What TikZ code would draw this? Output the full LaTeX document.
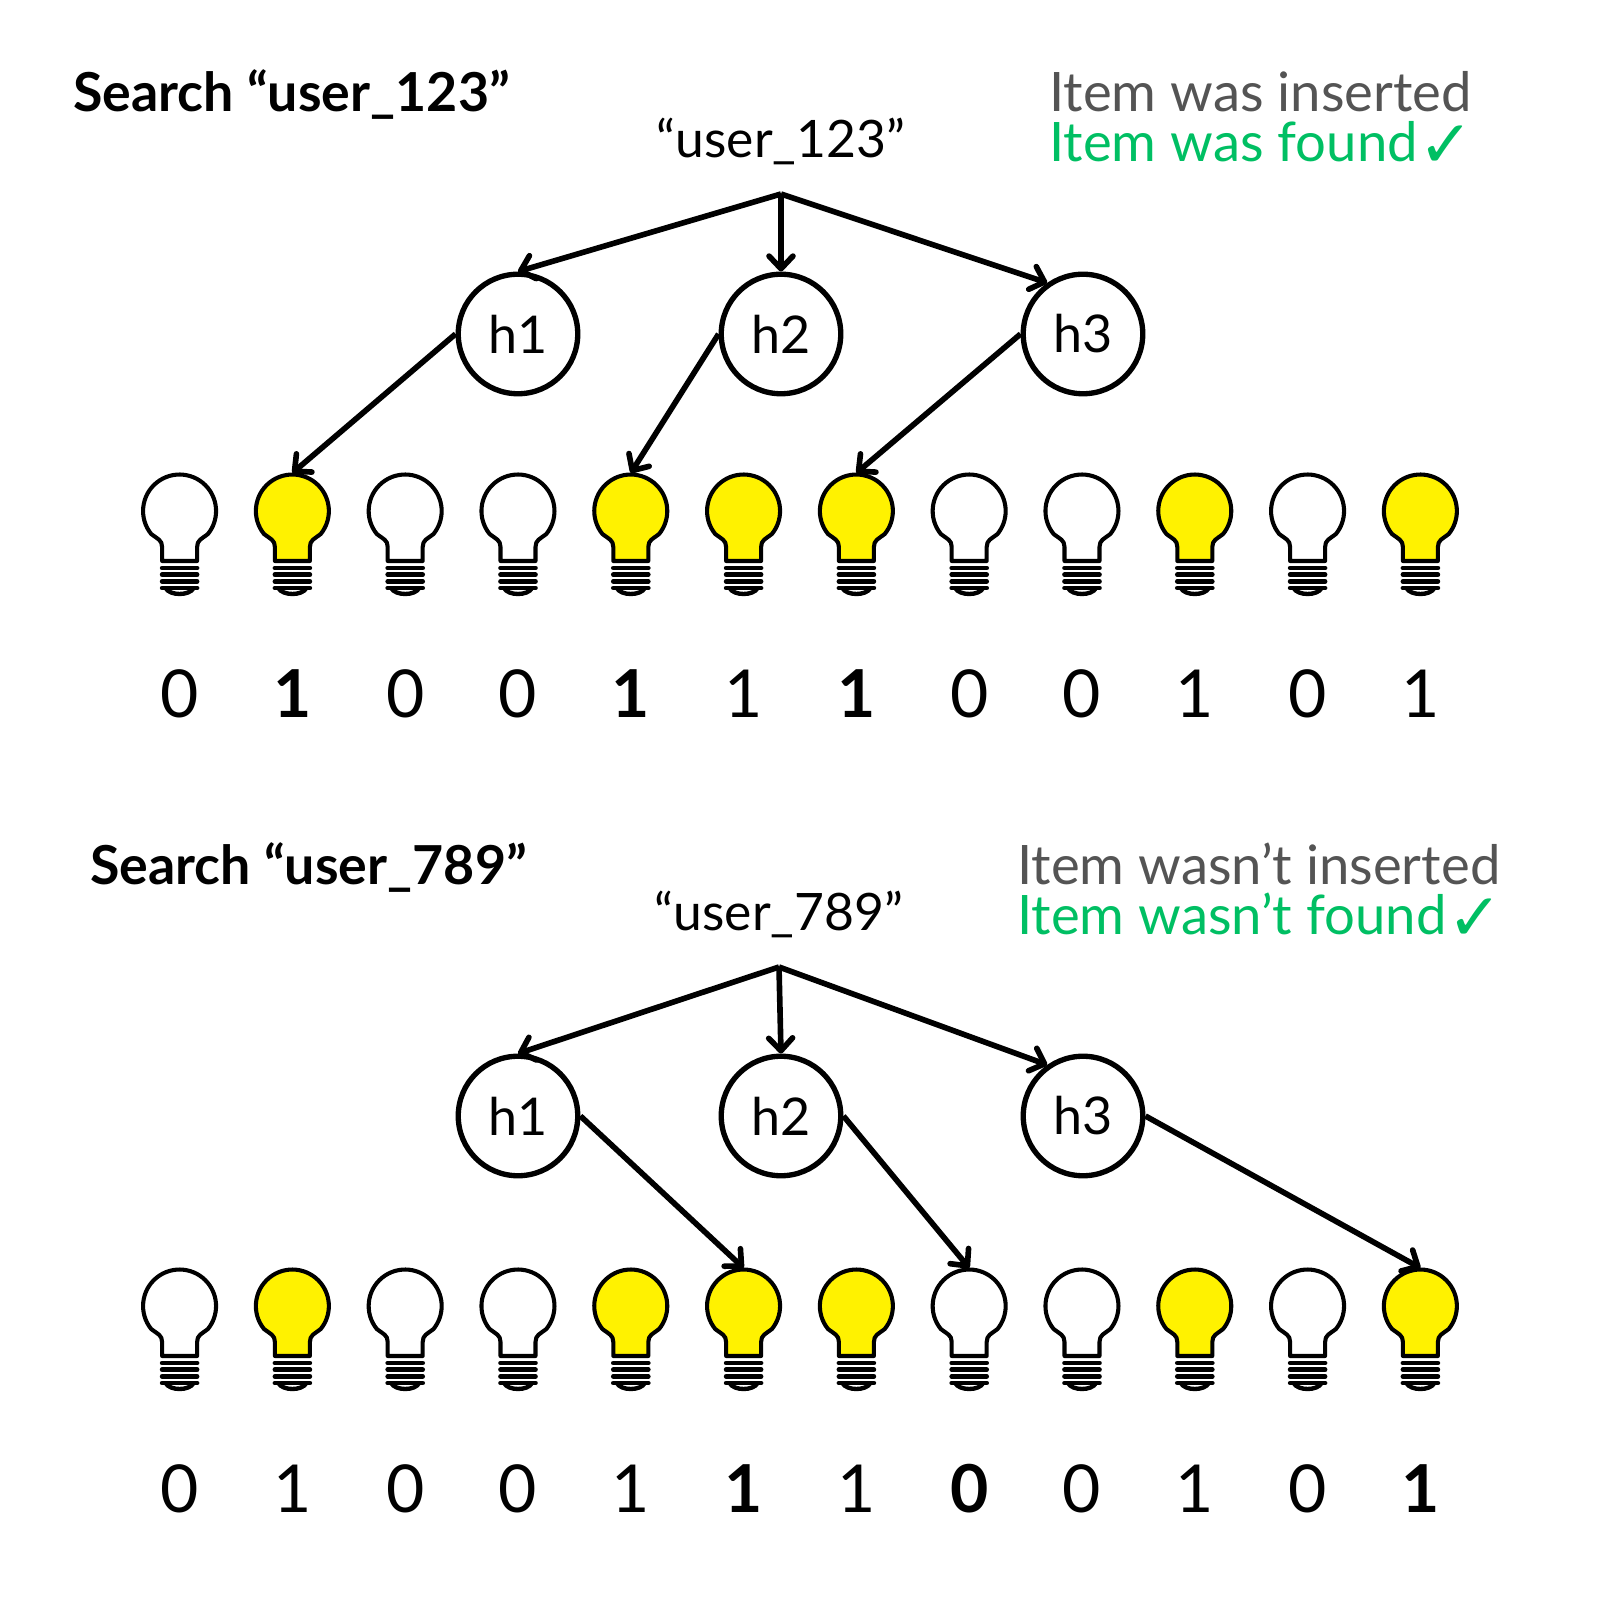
\documentclass[tikz,border=0pt]{standalone}
\usepackage{fontspec}
\setmainfont{Lato}
\newfontfamily\symfont{DejaVu Sans}
\usetikzlibrary{arrows.meta}
\definecolor{bulbyellow}{RGB}{255, 242, 0}
\definecolor{notegray}{RGB}{84, 84, 84}
\definecolor{notegreen}{RGB}{0, 191, 99}
\tikzset{
	hashnode/.style={draw=black, circle, line width=3.8pt, minimum size=85pt, inner sep=0pt, font=\fontsize{37}{40}\selectfont},
	flow/.style={line width=4pt, -{Straight Barb[round, length=9pt, width=17pt, line width=4pt]}},
	heading/.style={anchor=base west, inner sep=0pt, font=\fontsize{38.2}{40}\selectfont\bfseries},
	note/.style={anchor=base west, inner sep=0pt, font=\fontsize{38.7}{40}\selectfont},
	itemname/.style={anchor=base, inner sep=0pt, font=\fontsize{36.7}{40}\selectfont},
	bitreg/.style={anchor=base, inner sep=0pt, font=\fontsize{47}{50}\selectfont},
	bitbold/.style={anchor=base, inner sep=0pt, font=\fontsize{47}{50}\selectfont\bfseries},
	bulb/.pic={
		\draw[line width=2.9pt, line join=round, fill=#1] (-17.5,-50) -- (-17.5,-36)
			.. controls (-17.5,-29) and (-22,-28) .. (-28.4,-23)
			arc[start angle=219, end angle=-39, radius=36.5]
			.. controls (22,-28) and (17.5,-29) .. (17.5,-36) -- (17.5,-50) -- cycle;
		\foreach \ty in {-57,-63.7,-70.4,-77}
			\draw[line width=3.3pt, line cap=round] (-17.5,\ty) -- (17.5,\ty);
		\draw[line width=3.1pt] (-14,-77) .. controls (-10,-85) and (10,-85) .. (14,-77);
	},
}
\newcommand{\tickmark}{\hspace{-9pt}\raisebox{-4pt}[0pt][0pt]{\symfont\fontsize{47}{50}\selectfont ✓}}
\begin{document}
\begin{tikzpicture}[x=0.025cm, y=0.025cm]
	\useasboundingbox (0,0) rectangle (1600,1600);
	\def\dx{112.8}

	% Search that is found
	\node[heading] (heada) at (73,1488) {Search “user\_123”};
	\node[note, text=notegray] (notea) at (1049,1488) {Item was inserted};
	\node[note, text=notegreen] (founda) at (1049,1438) {Item was found \tickmark};
	\node[itemname] (itema) at (781,1442) {“user\_123”};
	\coordinate (srca) at (781,1406);

	\node[hashnode] (h1a) at (518,1266) {h1};
	\node[hashnode] (h2a) at (781,1266) {h2};
	\node[hashnode] (h3a) at (1083,1266) {h3};

	\foreach \i/\b/\s in {1/0/bitreg, 2/1/bitbold, 3/0/bitreg, 4/0/bitreg, 5/1/bitbold, 6/1/bitreg, 7/1/bitbold, 8/0/bitreg, 9/0/bitreg, 10/1/bitreg, 11/0/bitreg, 12/1/bitreg} {
		\ifnum\b=1 \def\bulbfill{bulbyellow}\else \def\bulbfill{white}\fi
		\pic at ({179.6+(\i-1)*\dx},1089) {bulb=\bulbfill};
		\coordinate (ta\i) at ({179.6+(\i-1)*\dx},1127);
		\node[\s] (da\i) at ({179.6+(\i-1)*\dx},882) {\b};
	}

	\draw[flow] (srca) -- (h1a.north);
	\draw[flow] (srca) -- (h2a.north);
	\draw[flow] (srca) -- (h3a.125);
	\draw[flow] (h1a.west) -- (ta2);
	\draw[flow] (h2a.west) -- (ta5);
	\draw[flow] (h3a.west) -- (ta7);

	% Search that is not found
	\node[heading] (headb) at (90,715) {Search “user\_789”};
	\node[note, text=notegray] (noteb) at (1017,715) {Item wasn’t inserted};
	\node[note, text=notegreen] (foundb) at (1017,665) {Item wasn’t found \tickmark};
	\node[itemname] (itemb) at (779,669) {“user\_789”};
	\coordinate (srcb) at (779,633);

	\node[hashnode] (h1b) at (518,484) {h1};
	\node[hashnode] (h2b) at (781,484) {h2};
	\node[hashnode] (h3b) at (1083,484) {h3};

	\foreach \i/\b/\s in {1/0/bitreg, 2/1/bitreg, 3/0/bitreg, 4/0/bitreg, 5/1/bitreg, 6/1/bitbold, 7/1/bitreg, 8/0/bitbold, 9/0/bitreg, 10/1/bitreg, 11/0/bitreg, 12/1/bitbold} {
		\ifnum\b=1 \def\bulbfill{bulbyellow}\else \def\bulbfill{white}\fi
		\pic at ({179.6+(\i-1)*\dx},294) {bulb=\bulbfill};
		\coordinate (tb\i) at ({179.6+(\i-1)*\dx},332);
		\node[\s] (db\i) at ({179.6+(\i-1)*\dx},87) {\b};
	}

	\draw[flow] (srcb) -- (h1b.north);
	\draw[flow] (srcb) -- (h2b.north);
	\draw[flow] (srcb) -- (h3b.125);
	\draw[flow] (h1b.east) -- (tb6);
	\draw[flow] (h2b.east) -- (tb8);
	\draw[flow] (h3b.east) -- (tb12);
\end{tikzpicture}
\end{document}
